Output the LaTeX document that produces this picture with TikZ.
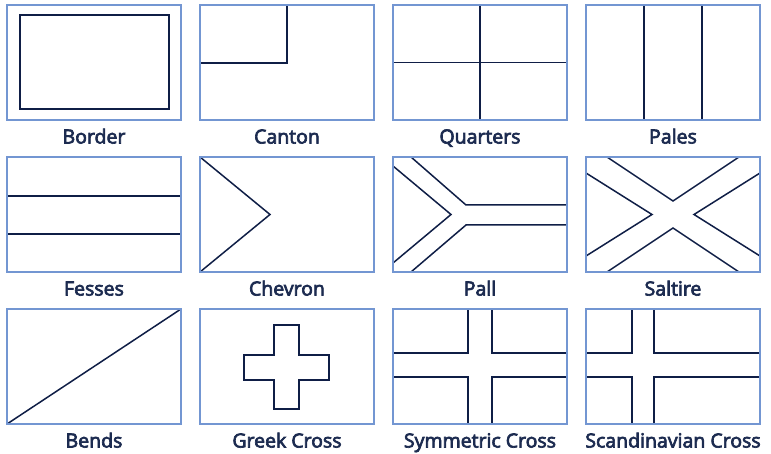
\documentclass[tikz,border=0pt]{standalone}
\usepackage{fontspec}
\setmainfont{Open Sans}
\newfontfamily\capfont{Open Sans}[FakeBold=3.5]
\definecolor{frm}{HTML}{7396D2}
\definecolor{ink}{HTML}{0F1E46}
\definecolor{txt}{HTML}{1C2B50}
\tikzset{
  frame/.style={draw=frm, line width=1.5pt, minimum width=174pt, minimum height=115pt,
    inner sep=0pt, outer sep=0pt, anchor=north west},
  ink/.style={draw=ink, line width=1.5pt, line join=miter},
  caption/.style={text=txt, font=\capfont\fontsize{19.5}{21}\selectfont, anchor=base, inner sep=0pt}
}
\newcommand\flagbox[5]{%
  \begin{scope}[shift={(#1,#2)}]
    #5
    \node[frame] (#3) at (0,0) {};
    \node[caption] (#3-lab) at (87,138.5) {#4};
  \end{scope}}
\begin{document}
\begin{tikzpicture}[x=1pt,y=-1pt]
\useasboundingbox (0,0) rectangle (771,454);
% Row 1
\flagbox{7}{5}{border}{Border}{\draw[ink] (13,10) rectangle (162,104);}
\flagbox{200}{5}{canton}{Canton}{\draw[ink] (0,58) -- (87,58) -- (87,0);}
\flagbox{393}{5}{quarters}{Quarters}{\draw[ink] (87,0) -- (87,115) (0,57.5) -- (174,57.5);}
\flagbox{586}{5}{pales}{Pales}{\draw[ink] (58,0) -- (58,115) (116,0) -- (116,115);}
% Row 2
\flagbox{7}{157}{fesses}{Fesses}{\draw[ink] (0,39) -- (174,39) (0,77) -- (174,77);}
\flagbox{200}{157}{chevron}{Chevron}{\draw[ink] (0,0) -- (70,57.5) -- (0,115);}
\flagbox{393}{157}{pall}{Pall}{\draw[ink] (18,0) -- (73,48) -- (174,48)
   (174,68) -- (73,68) -- (18,115)
   (0,9) -- (58,57.5) -- (0,106);}
\flagbox{586}{157}{saltire}{Saltire}{\draw[ink] (21,0) -- (87,44) -- (153,0)
   (0,16) -- (66,57.5) -- (0,99)
   (174,16) -- (108,57.5) -- (174,99)
   (21,115) -- (87,71) -- (153,115);}
% Row 3
\flagbox{7}{309}{bends}{Bends}{\draw[ink] (0,115) -- (174,0);}
\flagbox{200}{309}{greek}{Greek Cross}{\draw[ink] (74,16) -- (99,16) -- (99,46) -- (129,46) -- (129,71)
   -- (99,71) -- (99,100) -- (74,100) -- (74,71) -- (44,71) -- (44,46) -- (74,46) -- cycle;}
\flagbox{393}{309}{symcross}{Symmetric Cross}{\draw[ink] (75,0) -- (75,44) -- (0,44)
   (99,0) -- (99,44) -- (174,44)
   (0,68) -- (75,68) -- (75,115)
   (174,68) -- (99,68) -- (99,115);}
\flagbox{586}{309}{scancross}{Scandinavian Cross}{\draw[ink] (46,0) -- (46,44) -- (0,44)
   (68,0) -- (68,44) -- (174,44)
   (0,68) -- (46,68) -- (46,115)
   (174,68) -- (68,68) -- (68,115);}
\end{tikzpicture}
\end{document}
